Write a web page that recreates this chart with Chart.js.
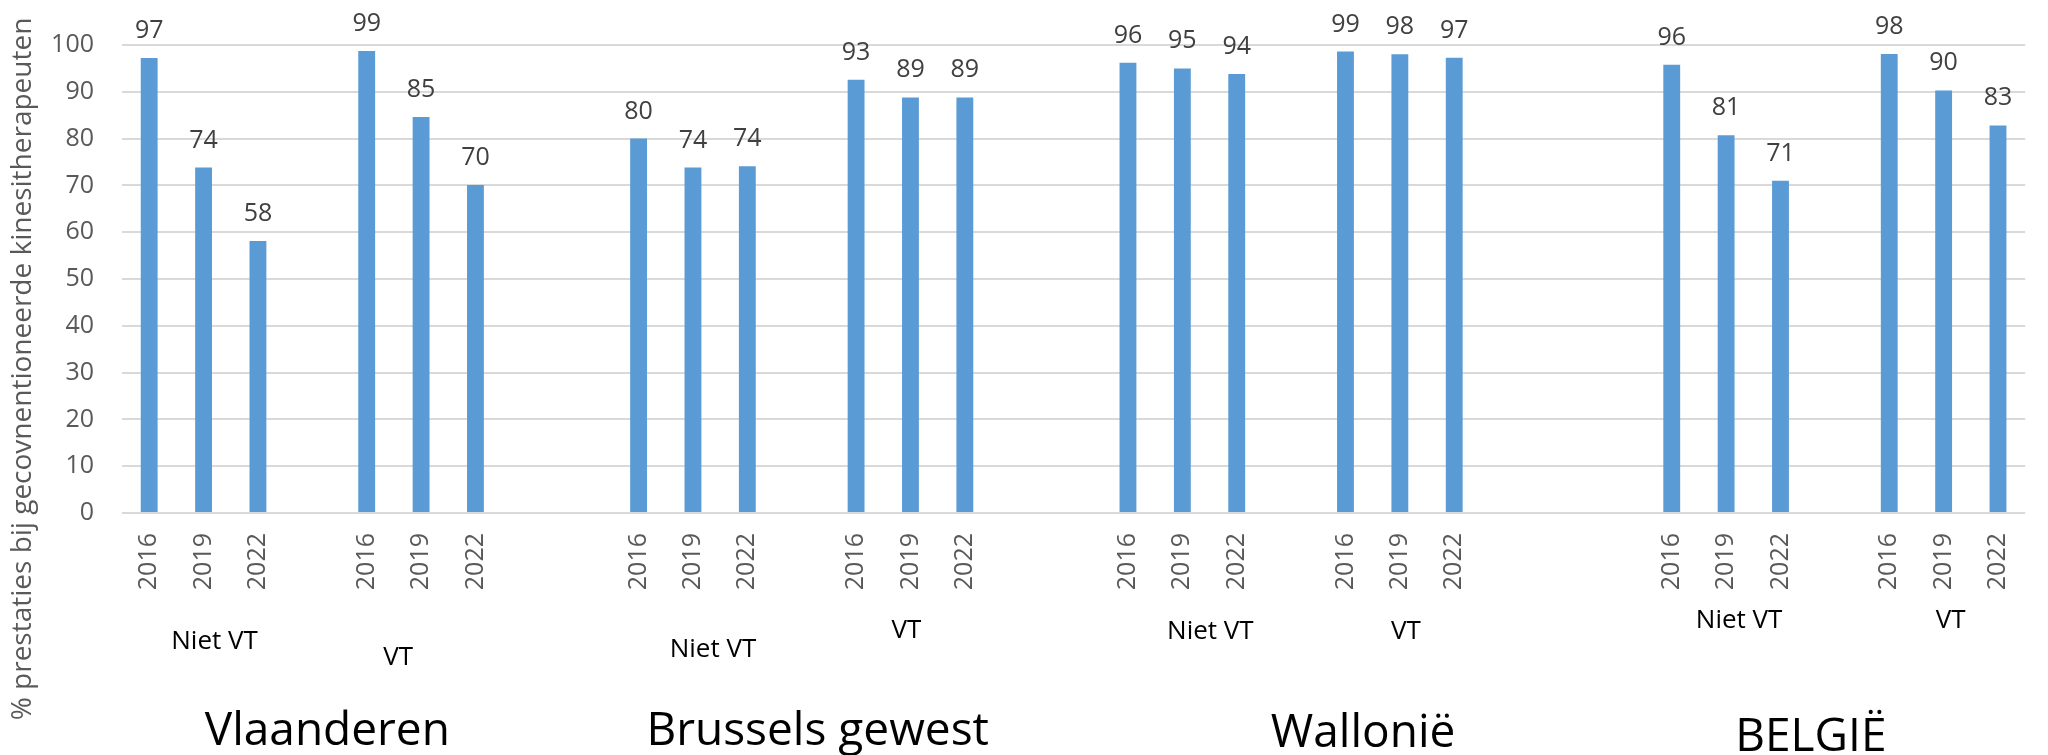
<!DOCTYPE html>
<html><head><meta charset="utf-8">
<script src="https://cdn.jsdelivr.net/npm/chart.js@4.4.1/dist/chart.umd.min.js"></script>
<style>html,body{margin:0;padding:0;background:#fff;} canvas{display:block;}</style>
</head><body>
<canvas id="c" width="2048" height="755"></canvas>
<script>
// ---- data ----
const years = ['2016', '2019', '2022'];
const regions = ['Vlaanderen', 'Brussels gewest', 'Wallonië', 'BELGIË'];
const groups = ['Niet VT', 'VT'];
const vlaanderenNietVT = [97.2, 73.8, 58.1];
const vlaanderenVT = [98.7, 84.6, 70.1];
const brusselNietVT = [80.0, 73.8, 74.1];
const brusselVT = [92.6, 88.8, 88.8];
const walloniaNietVT = [96.2, 95.0, 93.8];
const walloniaVT = [98.6, 98.0, 97.3];
const belgieNietVT = [95.8, 80.7, 71.0];
const belgieVT = [98.1, 90.3, 82.8];
const yTitle = '% prestaties bij gecovnentioneerde kinesitherapeuten';

// ---- layout (empty category slots between groups) ----
const gapAfter = [1, 2, 1, 2, 1, 3, 1];
const seriesOrder = [vlaanderenNietVT, vlaanderenVT, brusselNietVT, brusselVT,
                     walloniaNietVT, walloniaVT, belgieNietVT, belgieVT];
const labels = [], values = [], groupMid = [];
seriesOrder.forEach((s, i) => {
  s.forEach((v, j) => {
    if (j === 1) groupMid.push(labels.length);
    labels.push(years[j]);
    values.push(v);
  });
  for (let k = 0; k < (gapAfter[i] || 0); k++) { labels.push(''); values.push(null); }
});

const FONT = "'Open Sans', 'Noto Sans', sans-serif";
// label placement tweaks (dx from group centre, baseline y)
const groupLabelPos = [[11, 649], [-23, 665], [20, 657], [-4, 638], [28, 639], [6, 639], [13, 628], [7, 628]];
const regionLabelPos = [[15, 745], [16, 745], [72, 747], [-24, 751]];

const annotations = {
  id: 'annotations',
  afterDatasetsDraw(chart) {
    const ctx = chart.ctx;
    const meta = chart.getDatasetMeta(0);
    ctx.save();
    // value labels
    ctx.font = '25px ' + FONT;
    ctx.fillStyle = '#404040';
    ctx.textAlign = 'center';
    ctx.textBaseline = 'alphabetic';
    meta.data.forEach((bar, i) => {
      const v = values[i];
      if (v === null) return;
      ctx.fillText(Math.round(v).toString(), bar.x, bar.y - 20);
    });
    const xs = chart.scales.x;
    // group labels
    ctx.fillStyle = '#000';
    ctx.font = '26px ' + FONT;
    groupMid.forEach((slot, g) => {
      const x = xs.getPixelForValue(slot) + groupLabelPos[g][0];
      ctx.fillText(groups[g % 2], x, groupLabelPos[g][1]);
    });
    // region labels
    ctx.font = '46px ' + FONT;
    regions.forEach((r, i) => {
      const c = (xs.getPixelForValue(groupMid[2 * i]) + xs.getPixelForValue(groupMid[2 * i + 1])) / 2;
      ctx.fillText(r, c + regionLabelPos[i][0], regionLabelPos[i][1]);
    });
    // y axis title
    ctx.fillStyle = '#595959';
    ctx.font = '28px ' + FONT;
    ctx.translate(31, 369);
    ctx.rotate(-Math.PI / 2);
    ctx.fillText(yTitle, 0, 0);
    ctx.restore();
  }
};

new Chart(document.getElementById('c'), {
  type: 'bar',
  data: {
    labels: labels,
    datasets: [{
      data: values,
      backgroundColor: '#5b9bd5',
      borderWidth: 0,
      barPercentage: 0.31,
      categoryPercentage: 1.0
    }]
  },
  options: {
    responsive: false,
    devicePixelRatio: 1,
    animation: false,
    layout: { padding: { top: 45, left: 0, right: 0, bottom: 0 } },
    plugins: { legend: { display: false }, tooltip: { enabled: false } },
    scales: {
      x: {
        offset: true,
        grid: { display: false, drawTicks: false },
        border: { display: false },
        ticks: {
          autoSkip: false, minRotation: 90, maxRotation: 90, padding: 20,
          color: '#595959', font: { family: FONT, size: 25 }
        },
        afterFit(scale) { scale.height = 242; }
      },
      y: {
        min: 0, max: 100,
        grid: { color: '#d9d9d9', lineWidth: 2, drawTicks: false },
        border: { display: false },
        ticks: {
          stepSize: 10, padding: 28,
          color: '#595959', font: { family: FONT, size: 25 }
        },
        afterFit(scale) { scale.width = 122; }
      }
    }
  },
  plugins: [annotations]
});
</script>
</body></html>
